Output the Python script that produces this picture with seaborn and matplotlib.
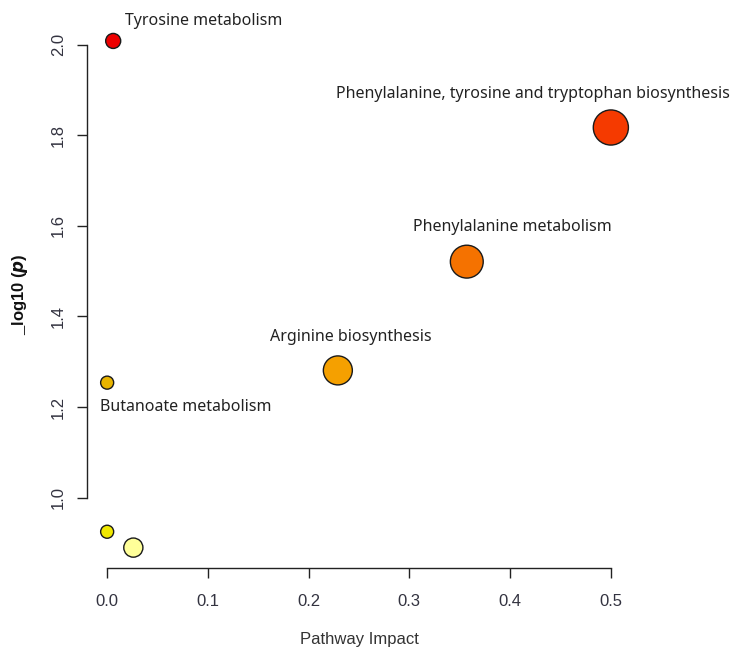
import matplotlib
matplotlib.use("Agg")
import matplotlib.pyplot as plt
import seaborn as sns
import pandas as pd

# ---- data ----
pathways = [
    "Tyrosine metabolism",
    "Phenylalanine, tyrosine and tryptophan biosynthesis",
    "Phenylalanine metabolism",
    "Arginine biosynthesis",
    "Butanoate metabolism",
    "Unlabeled A",
    "Unlabeled B",
]
impact = [0.006, 0.500, 0.357, 0.229, 0.000, 0.000, 0.026]
neg_log_p = [2.008, 1.817, 1.521, 1.281, 1.254, 0.925, 0.890]
bubble_size = [117, 640, 560, 436, 88, 88, 190]
colors = ["#EE0000", "#F53A00", "#F57200", "#F5A000", "#E8B400", "#F0E800", "#FFFF99"]
show_label = [True, True, True, True, True, False, False]
label_offsets = [(12, 20), (-78, 33), (46, 35), (13, 33), (79, -24), (0, 0), (0, 0)]
label_ha = ["left", "center", "center", "center", "center", "center", "center"]

x_ticks = [0.0, 0.1, 0.2, 0.3, 0.4, 0.5]
y_ticks = [1.0, 1.2, 1.4, 1.6, 1.8, 2.0]

df = pd.DataFrame({"pathway": pathways, "impact": impact, "nlp": neg_log_p})

sns.set_theme(style="ticks")
plt.rcParams["font.family"] = ["Liberation Sans", "DejaVu Sans"]

fig = plt.figure(figsize=(7.36, 6.51), dpi=100)
ax = fig.add_axes([87 / 736, 1 - 568 / 651, (631 - 87) / 736, (568 - 21) / 651])

sns.scatterplot(
    data=df, x="impact", y="nlp", hue="pathway", size="pathway",
    palette=dict(zip(pathways, colors)), sizes=dict(zip(pathways, bubble_size)),
    edgecolor="#1a1a1a", linewidth=1.0, legend=False, ax=ax, zorder=3,
)

for name, xv, yv, show, off, ha in zip(pathways, impact, neg_log_p, show_label, label_offsets, label_ha):
    if show:
        ax.annotate(name, (xv, yv), xytext=off, textcoords="offset pixels",
                    ha=ha, va="center", fontsize=11.5, color="#222222",
                    family=["Noto Sans", "DejaVu Sans"])

ax.set_xlim(-0.02, 0.52)
ax.set_ylim(0.845, 2.052)
ax.set_xticks(x_ticks)
ax.set_xticklabels([f"{t:.1f}" for t in x_ticks])
ax.set_yticks(y_ticks)
ax.set_yticklabels([f"{t:.1f}" for t in y_ticks], rotation=90, va="center")
ax.tick_params(axis="both", length=7, width=1, colors="#222222", labelsize=12,
               labelcolor="#333340")
ax.tick_params(axis="x", pad=12)
ax.tick_params(axis="y", pad=8)

for s in ["top", "right"]:
    ax.spines[s].set_visible(False)
ax.spines["left"].set_bounds(1.0, 2.0)
ax.spines["bottom"].set_bounds(0.0, 0.5)
for s in ["left", "bottom"]:
    ax.spines[s].set_color("#222222")
    ax.spines[s].set_linewidth(1.0)

ax.set_xlabel("Pathway Impact", fontsize=12, color="#333333", labelpad=16)
ax.set_ylabel(r"_log10 ($\mathbfit{p}$)", fontsize=12, fontweight="bold",
              color="#111111", labelpad=15)

fig.savefig("out.png", dpi=100, facecolor="white")
